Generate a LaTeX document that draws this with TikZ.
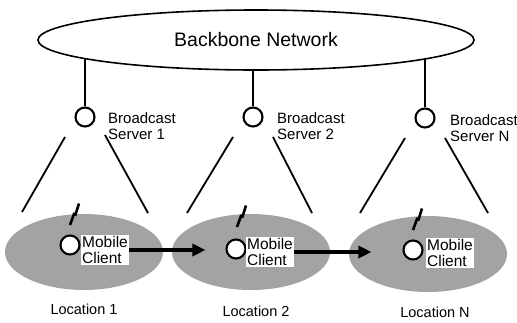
\documentclass[tikz,border=0pt]{standalone}
\usepackage{fontspec}
\setmainfont{Liberation Sans}
\usepackage{tikz}
\usetikzlibrary{arrows.meta, shapes.geometric}

\begin{document}
\begin{tikzpicture}[x=1pt, y=-1pt,
            net/.style = {ellipse, draw, line width=1.6pt, fill=white,
                         minimum width=436pt, minimum height=60pt, inner sep=0pt,
                         font=\fontsize{19.5}{22}\selectfont},
            cell/.style = {ellipse, fill=black!36, minimum width=158pt,
                         minimum height=76pt, inner sep=0pt, node contents={}},
            dot/.style = {circle, draw, line width=2.1pt, fill=white,
                         minimum size=19pt, inner sep=0pt, node contents={}},
            srvlabel/.style = {anchor=west, align=left, inner sep=0pt,
                         font=\fontsize{15}{16.5}\selectfont},
            clilabel/.style = {fill=white, align=left, inner sep=1pt,
                         font=\fontsize{15.5}{16.5}\selectfont},
            loclabel/.style = {font=\fontsize{14.5}{17}\selectfont},
            cone/.style = {line width=1.8pt},
            bolt/.style = {line width=2.6pt},
            move/.style = {line width=3.4pt, -{Triangle[length=13pt, width=12pt]}}
        ]
            \useasboundingbox (0,0) rectangle (517,322);

            % backbone and servers
            \node (backbone) at (256,40) [net] {Backbone Network};
            \node (srv1) at (85,117) [dot];
            \node (srv2) at (253,117) [dot];
            \node (srvN) at (425,118) [dot];
            \node at (108,126) [srvlabel] {Broadcast\\Server 1};
            \node at (277,126) [srvlabel] {Broadcast\\Server 2};
            \node at (450,128) [srvlabel] {Broadcast\\Server N};

            \path (backbone.186) coordinate (b1)
                  (backbone.354) coordinate (bN);
            \draw[line width=1.8pt] (srv1.north) -- (srv1 |- b1)
                  (srv2.north) -- (srv2 |- backbone.south)
                  (srvN.north) -- (srvN |- bN);

            % locations
            \node (loc1) at (84,252) [cell];
            \node (loc2) at (251,252) [cell];
            \node (locN) at (428,254) [cell];

            \coordinate (c1a) at (65,137);  \coordinate (c1b) at (22,212);
            \coordinate (c1c) at (105,135); \coordinate (c1d) at (148,213);
            \coordinate (c2a) at (233,137); \coordinate (c2b) at (187,213);
            \coordinate (c2c) at (273,137); \coordinate (c2d) at (312,213);
            \coordinate (cNa) at (405,138); \coordinate (cNb) at (360,213);
            \coordinate (cNc) at (445,138); \coordinate (cNd) at (488,213);
            \draw[cone] (c1a) -- (c1b)  (c1c) -- (c1d)
                        (c2a) -- (c2b)  (c2c) -- (c2d)
                        (cNa) -- (cNb)  (cNc) -- (cNd);

            % mobile clients
            \node (cli1) at (70,245) [dot];
            \node (cli2) at (236,249) [dot];
            \node (cliN) at (413,250) [dot];
            \node (txt1) at (105,250) [clilabel] {Mobile\\Client};
            \node (txt2) at (270,252) [clilabel] {Mobile\\Client};
            \node (txtN) at (450,253) [clilabel] {Mobile\\Client};

            \draw[bolt] ([shift={(0,-20)}]cli1.center) -- ++(4,-11) -- ++(1.5,0.5) -- ++(3.5,-11);
            \draw[bolt] ([shift={(1,-22)}]cli2.center) -- ++(4,-11) -- ++(1.5,0.5) -- ++(3.5,-11);
            \draw[bolt] ([shift={(0,-20)}]cliN.center) -- ++(4,-11) -- ++(1.5,0.5) -- ++(3.5,-11);

            \draw[move, shorten >=20pt] (txt1.east) -- (txt1.east -| cli2.west);
            \draw[move, shorten >=31pt] (txt2.east) -- (txt2.east -| cliN.west);

            \node at (84,309) [loclabel] {Location 1};
            \node at (256,311) [loclabel] {Location 2};
            \node at (435,312) [loclabel] {Location N};
        \end{tikzpicture}
\end{document}
